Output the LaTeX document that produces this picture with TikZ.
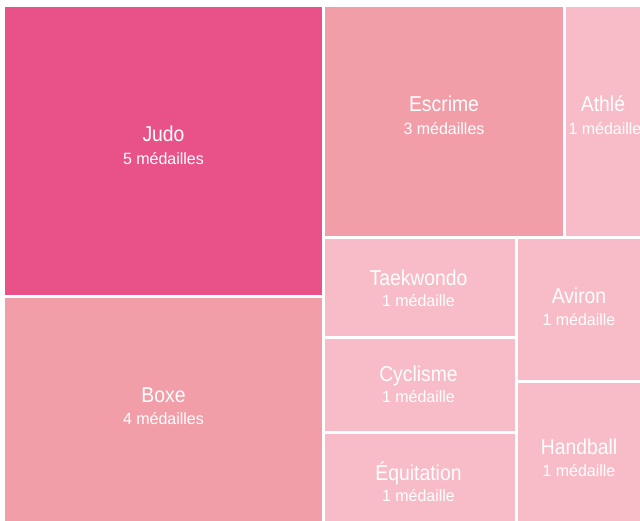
\documentclass[tikz,border=0pt]{standalone}
\usepackage{fontspec}
\newfontfamily\ttlfont[FakeStretch=0.9]{Liberation Sans}
\newfontfamily\subfont[FakeStretch=0.98]{Liberation Sans}
\definecolor{cdark}{RGB}{233,82,137}
\definecolor{cmid}{RGB}{242,158,168}
\definecolor{clight}{RGB}{247,188,199}
\tikzset{
  ttl/.style={anchor=base, text=white, inner sep=0pt, font=\ttlfont\fontsize{21.5}{23}\selectfont},
  sub/.style={anchor=base, text=white, inner sep=0pt, font=\subfont\fontsize{16.3}{18}\selectfont},
}
\begin{document}
\begin{tikzpicture}[x=1pt,y=-1pt]
\useasboundingbox (0,0) rectangle (640,521);
\fill[white] (0,0) rectangle (640,521);
\begin{scope}
\clip (0,0) rectangle (640,521);
% rectangles
\fill[cdark]  (5,7)   rectangle (322,295);
\fill[cmid]   (5,298) rectangle (322,521);
\fill[cmid]   (325,7) rectangle (563,236);
\fill[clight] (566,7) rectangle (640,236);
\fill[clight] (325,239) rectangle (515,336);
\fill[clight] (325,339) rectangle (515,431);
\fill[clight] (325,434) rectangle (515,521);
\fill[clight] (518,239) rectangle (640,380);
\fill[clight] (518,383) rectangle (640,521);
% labels
\node[ttl] (judoT) at (163.5,141.5) {Judo};
\node[sub] (judoS) at (163.5,164.5) {5 médailles};
\node[ttl] (boxeT) at (163.5,402.5) {Boxe};
\node[sub] (boxeS) at (163.5,424.5) {4 médailles};
\node[ttl] (escT) at (444,111.5) {Escrime};
\node[sub] (escS) at (444,134.5) {3 médailles};
\node[ttl] (athT) at (603,111.5) {Athlé};
\node[sub] (athS) at (605,134.5) {1 médaille};
\node[ttl] (taeT) at (418.5,285.5) {Taekwondo};
\node[sub] (taeS) at (418.5,306.5) {1 médaille};
\node[ttl] (cycT) at (418.5,381.5) {Cyclisme};
\node[sub] (cycS) at (418.5,402.5) {1 médaille};
\node[ttl] (equT) at (418.5,480) {Équitation};
\node[sub] (equS) at (418.5,501.5) {1 médaille};
\node[ttl] (avT) at (579,303.5) {Aviron};
\node[sub] (avS) at (579,325.5) {1 médaille};
\node[ttl] (hbT) at (579,454.5) {Handball};
\node[sub] (hbS) at (579,476) {1 médaille};
\end{scope}
\end{tikzpicture}
\end{document}
